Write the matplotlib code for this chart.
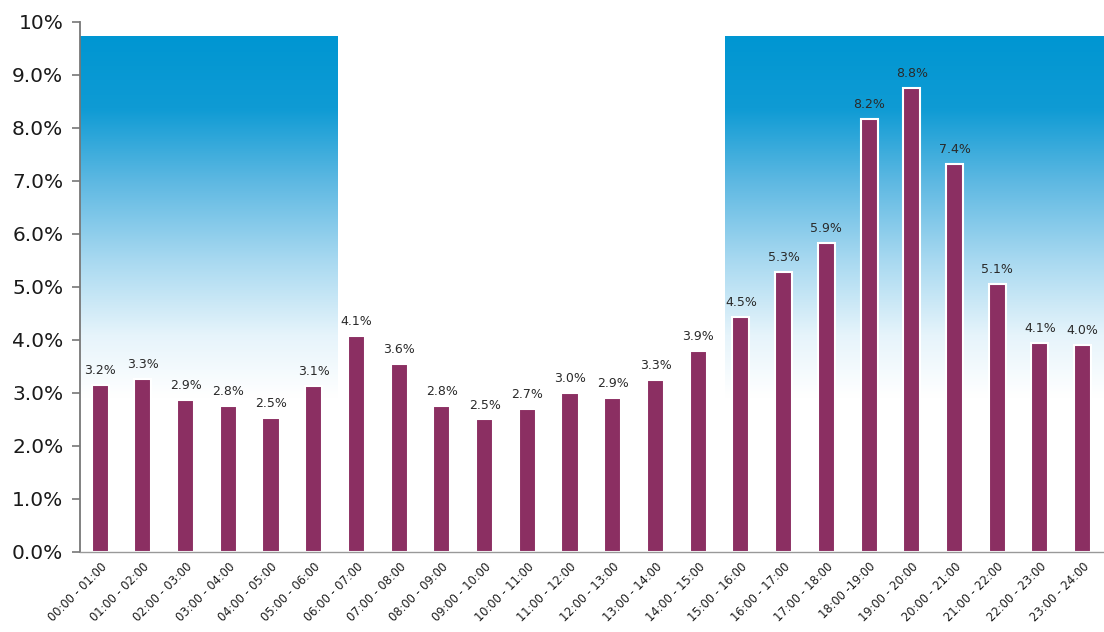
import numpy as np
import matplotlib
matplotlib.use('Agg')
import matplotlib.pyplot as plt
from matplotlib.colors import LinearSegmentedColormap

# hourly share, label text and measured bar heights
hours = ['00:00 - 01:00', '01:00 - 02:00', '02:00 - 03:00', '03:00 - 04:00',
         '04:00 - 05:00', '05:00 - 06:00', '06:00 - 07:00', '07:00 - 08:00',
         '08:00 - 09:00', '09:00 - 10:00', '10:00 - 11:00', '11:00 - 12:00',
         '12:00 - 13:00', '13:00 - 14:00', '14:00 - 15:00', '15:00 - 16:00',
         '16:00 - 17:00', '17:00 - 18:00', '18:00 -19:00', '19:00 - 20:00',
         '20:00 - 21:00', '21:00 - 22:00', '22:00 - 23:00', '23:00 - 24:00']
labels = [3.2, 3.3, 2.9, 2.8, 2.5, 3.1, 4.1, 3.6, 2.8, 2.5, 2.7, 3.0,
          2.9, 3.3, 3.9, 4.5, 5.3, 5.9, 8.2, 8.8, 7.4, 5.1, 4.1, 4.0]
heights = [3.15, 3.26, 2.87, 2.75, 2.52, 3.14, 4.08, 3.55, 2.75, 2.5, 2.7, 3.0,
           2.9, 3.25, 3.79, 4.43, 5.28, 5.83, 8.17, 8.75, 7.32, 5.06, 3.94, 3.9]

# shaded periods (bar index units) and their top
night_spans = [(-0.47, 5.56), (14.63, 23.5)]
shade_top = 9.72

fig = plt.figure(figsize=(11.04, 6.32), dpi=100)
ax = fig.add_axes([0.0725, 0.1266, 0.9275, 0.8386])

# vertical blue-to-white gradient
grad = LinearSegmentedColormap.from_list('sky', [
    (0.00, '#ffffff'), (0.30, '#ffffff'), (0.42, '#e6f4fb'),
    (0.57, '#a6d8f0'), (0.72, '#5db8e2'), (0.86, '#0f9bd4'), (1.00, '#0096d2')])
g = np.linspace(0, 1, 256).reshape(-1, 1)
for x0, x1 in night_spans:
    ax.imshow(g, cmap=grad, origin='lower', aspect='auto',
              extent=[x0, x1, 0, shade_top], zorder=0)

x = np.arange(len(hours))
ax.bar(x, heights, width=0.4, color='#8b2f62', edgecolor='white',
       linewidth=1.5, zorder=2)

for xi, h, v in zip(x, heights, labels):
    ax.text(xi, h + 0.15, '%.1f%%' % v, ha='center', va='bottom',
            fontsize=9, color='#2a2a2a', zorder=3)

ax.set_xlim(-0.47, 23.5)
ax.set_ylim(0, 10)

yt = np.arange(0, 11)
ax.set_yticks(yt)
ax.set_yticklabels(['%.1f%%' % v for v in yt[:-1]] + ['10%'],
                   fontsize=14.5, color='#1a1a1a')
ax.tick_params(axis='y', direction='out', length=6, width=1.2, color='#777777', pad=6)

ax.set_xticks(x)
ax.set_xticklabels(hours, rotation=45, ha='right', rotation_mode='anchor',
                   fontsize=8.3, color='#1a1a1a')
ax.tick_params(axis='x', length=0, pad=6)

for s in ['top', 'right']:
    ax.spines[s].set_visible(False)
ax.spines['left'].set_color('#777777')
ax.spines['left'].set_linewidth(1.3)
ax.spines['bottom'].set_color('#999999')
ax.spines['bottom'].set_linewidth(1.0)

fig.savefig('out.png', dpi=100)
